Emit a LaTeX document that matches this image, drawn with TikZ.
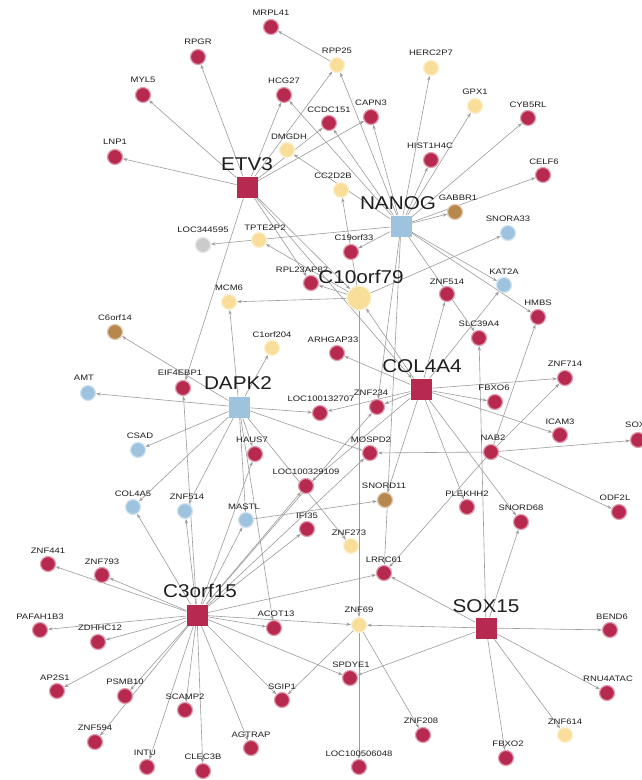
\documentclass[tikz,border=0pt]{standalone}
\usepackage{fontspec}
\setmainfont{Liberation Sans}[FakeStretch=1.12]
\newfontfamily\lblfont{Liberation Sans}[FakeStretch=1.2]
\usetikzlibrary{arrows.meta}
\pgfdeclarelayer{bg}
\pgfsetlayers{bg,main}
\definecolor{nred}{HTML}{B8294F}
\definecolor{nyel}{HTML}{F8DE98}
\definecolor{nblu}{HTML}{9DC3DF}
\definecolor{nbrn}{HTML}{B7874E}
\definecolor{ngry}{HTML}{CBCBCB}
\definecolor{edgec}{HTML}{9C9C9C}
\definecolor{txt}{HTML}{1E1E1E}
\tikzset{
 base/.style={circle,inner sep=0pt,minimum size=15pt,line width=1.2pt},
 rc/.style={base,fill=nred,draw=nred!45!white},
 yc/.style={base,fill=nyel,draw=nyel!45!white},
 bc/.style={base,fill=nblu,draw=nblu!45!white},
 nc/.style={base,fill=nbrn,draw=nbrn!45!white},
 gc/.style={base,fill=ngry,draw=ngry!45!white},
 bigy/.style={yc,minimum size=24pt},
 rsq/.style={rectangle,inner sep=0pt,minimum size=21pt,fill=nred},
 bsq/.style={rectangle,inner sep=0pt,minimum size=21pt,fill=nblu},
 lbl/.style={inner sep=0pt,text=txt,font=\lblfont\fontsize{7.9}{8.5}\selectfont},
 hublbl/.style={inner sep=0pt,text=txt,font=\fontsize{18.5}{20}\selectfont},
 ed/.style={draw=edgec,line width=0.6pt,-{Stealth[length=4.5pt,width=3.2pt]}},
}
\newcommand\gn[7]{\node[#4] (#1) at (#2,#3) {}; \node[lbl] (#1-l) at (#6,#7) {#5};}
\newcommand\hb[7]{\node[#4] (#1) at (#2,#3) {}; \node[hublbl] (#1-l) at (#6,#7) {#5};}
\begin{document}
\begin{tikzpicture}[x=1pt,y=-1pt]
\useasboundingbox (0,0) rectangle (642,780);
% hubs
\hb{ETV3}{247}{187}{rsq}{ETV3}{247}{164}
\hb{NANOG}{401}{226}{bsq}{NANOG}{398}{203}
\hb{C10orf79}{359}{298}{bigy}{C10orf79}{361}{277}
\hb{COL4A4}{421}{389}{rsq}{COL4A4}{422}{366}
\hb{DAPK2}{239}{407}{bsq}{DAPK2}{238}{383}
\hb{C3orf15}{197}{615}{rsq}{C3orf15}{200}{591}
\hb{SOX15}{486}{628}{rsq}{SOX15}{486}{606}
% red
\gn{MRPL41}{271}{27}{rc}{MRPL41}{271}{13}
\gn{RPGR}{198}{57}{rc}{RPGR}{198}{42}
\gn{MYL5}{143}{95}{rc}{MYL5}{143}{80}
\gn{LNP1}{115}{157}{rc}{LNP1}{115}{142}
\gn{HCG27}{284}{95}{rc}{HCG27}{284}{81}
\gn{CCDC151}{329}{123}{rc}{CCDC151}{329}{110}
\gn{CAPN3}{371}{117}{rc}{CAPN3}{371}{103}
\gn{HIST1H4C}{431}{160}{rc}{HIST1H4C}{430}{146}
\gn{CYB5RL}{528}{118}{rc}{CYB5RL}{528}{105}
\gn{CELF6}{543}{175}{rc}{CELF6}{544}{162}
\gn{C19orf33}{351}{252}{rc}{C19orf33}{354}{238}
\gn{RPL23AP82}{311}{283}{rc}{RPL23AP82}{302}{270}
\gn{ZNF514a}{447}{294}{rc}{ZNF514}{447}{282}
\gn{HMBS}{538}{317}{rc}{HMBS}{538}{303}
\gn{SLC39A4}{479}{338}{rc}{SLC39A4}{479}{324}
\gn{ARHGAP33}{337}{353}{rc}{ARHGAP33}{333}{340}
\gn{EIF4EBP1}{183}{388}{rc}{EIF4EBP1}{180}{373}
\gn{ZNF714}{565}{378}{rc}{ZNF714}{565}{364}
\gn{LOC100132707}{320}{413}{rc}{LOC100132707}{321}{399}
\gn{ZNF234}{377}{407}{rc}{ZNF234}{371}{393}
\gn{FBXO6}{495}{402}{rc}{FBXO6}{494}{388}
\gn{ICAM3}{560}{435}{rc}{ICAM3}{560}{422}
\node[rc] (SOX) at (638,440) {};
\node[lbl,anchor=west] (SOX-l) at (625,425) {SOX};
\gn{HAUS7}{255}{454}{rc}{HAUS7}{252}{440}
\gn{MOSPD2}{370}{453}{rc}{MOSPD2}{371}{440}
\gn{NAB2}{491}{452}{rc}{NAB2}{493}{438}
\gn{LOC100329109}{306}{486}{rc}{LOC100329109}{306}{472}
\gn{PLEKHH2}{467}{507}{rc}{PLEKHH2}{467}{494}
\gn{SNORD68}{521}{522}{rc}{SNORD68}{521}{508}
\gn{ODF2L}{619}{512}{rc}{ODF2L}{615}{498}
\gn{IFI35}{307}{529}{rc}{IFI35}{307}{516}
\gn{LRRC61}{384}{573}{rc}{LRRC61}{384}{560}
\gn{ZNF441}{48}{564}{rc}{ZNF441}{48}{551}
\gn{ZNF793}{102}{575}{rc}{ZNF793}{102}{562}
\gn{PAFAH1B3}{40}{630}{rc}{PAFAH1B3}{40}{617}
\gn{ZDHHC12}{98}{642}{rc}{ZDHHC12}{100}{628}
\gn{AP2S1}{57}{691}{rc}{AP2S1}{55}{678}
\gn{PSMB10}{125}{696}{rc}{PSMB10}{125}{682}
\gn{SCAMP2}{185}{710}{rc}{SCAMP2}{185}{697}
\gn{ZNF594}{95}{742}{rc}{ZNF594}{95}{728}
\gn{INTU}{147}{767}{rc}{INTU}{145}{753}
\gn{CLEC3B}{203}{771}{rc}{CLEC3B}{203}{757}
\gn{AGTRAP}{251}{748}{rc}{AGTRAP}{251}{735}
\gn{ACOT13}{274}{628}{rc}{ACOT13}{276}{614}
\gn{SPDYE1}{350}{678}{rc}{SPDYE1}{351}{665}
\gn{SGIP1}{282}{700}{rc}{SGIP1}{282}{687}
\gn{LOC100506048}{359}{767}{rc}{LOC100506048}{359}{754}
\gn{ZNF208}{423}{735}{rc}{ZNF208}{421}{721}
\gn{BEND6}{610}{630}{rc}{BEND6}{612}{617}
\gn{RNU4ATAC}{607}{693}{rc}{RNU4ATAC}{608}{679}
\gn{FBXO2}{506}{758}{rc}{FBXO2}{508}{744}
% yellow
\gn{RPP25}{337}{65}{yc}{RPP25}{337}{51}
\gn{HERC2P7}{431}{68}{yc}{HERC2P7}{431}{53}
\gn{GPX1}{475}{106}{yc}{GPX1}{475}{92}
\gn{DMGDH}{287}{150}{yc}{DMGDH}{289}{137}
\gn{CC2D2B}{341}{190}{yc}{CC2D2B}{333}{176}
\gn{TPTE2P2}{259}{240}{yc}{TPTE2P2}{265}{228}
\gn{MCM6}{229}{302}{yc}{MCM6}{229}{288}
\gn{C1orf204}{272}{348}{yc}{C1orf204}{272}{335}
\gn{ZNF273}{351}{546}{yc}{ZNF273}{349}{533}
\gn{ZNF69}{359}{625}{yc}{ZNF69}{359}{610}
\gn{ZNF614}{565}{735}{yc}{ZNF614}{565}{722}
% blue
\gn{SNORA33}{508}{233}{bc}{SNORA33}{508}{219}
\gn{KAT2A}{504}{285}{bc}{KAT2A}{504}{272}
\gn{AMT}{88}{393}{bc}{AMT}{84}{378}
\gn{CSAD}{138}{450}{bc}{CSAD}{140}{436}
\gn{COL4A5}{133}{507}{bc}{COL4A5}{133}{494}
\gn{ZNF514b}{185}{511}{bc}{ZNF514}{187}{497}
\gn{MASTL}{246}{520}{bc}{MASTL}{244}{507}
% brown, grey
\gn{GABBR1}{455}{212}{nc}{GABBR1}{458}{198}
\gn{C6orf14}{115}{332}{nc}{C6orf14}{115}{318}
\gn{SNORD11}{385}{500}{nc}{SNORD11}{384}{486}
\gn{LOC344595}{203}{245}{gc}{LOC344595}{203}{230}
\begin{pgfonlayer}{bg}
\fill[white] (0,0) rectangle (642,780);
\foreach \s/\t in {
 ETV3/LNP1,ETV3/MYL5,ETV3/RPGR,ETV3/HCG27,ETV3/RPP25,ETV3/CAPN3,ETV3/CCDC151,
 ETV3/C10orf79,ETV3/RPL23AP82,ETV3/EIF4EBP1,ETV3/COL4A4,
 RPP25/MRPL41,
 NANOG/RPP25,NANOG/HERC2P7,NANOG/GPX1,NANOG/CYB5RL,NANOG/CELF6,NANOG/HIST1H4C,
 NANOG/CAPN3,NANOG/CCDC151,NANOG/HCG27,NANOG/DMGDH,NANOG/C19orf33,NANOG/GABBR1,
 NANOG/KAT2A,NANOG/HMBS,NANOG/SLC39A4,NANOG/LOC344595,NANOG/ZNF234,NANOG/LRRC61,
 C10orf79/TPTE2P2,C10orf79/MCM6,C10orf79/RPL23AP82,C10orf79/CC2D2B,C10orf79/SNORA33,
 C10orf79/ZNF69,
 COL4A4/C10orf79,COL4A4/ARHGAP33,COL4A4/ZNF234,COL4A4/LOC100132707,COL4A4/ZNF514a,
 COL4A4/KAT2A,COL4A4/ZNF714,COL4A4/FBXO6,COL4A4/ICAM3,COL4A4/PLEKHH2,COL4A4/SNORD68,
 COL4A4/SNORD11,COL4A4/LOC100329109,
 DAPK2/AMT,DAPK2/CSAD,DAPK2/COL4A5,DAPK2/ZNF514b,DAPK2/MASTL,DAPK2/HAUS7,
 DAPK2/LOC100132707,DAPK2/MOSPD2,DAPK2/MCM6,DAPK2/C6orf14,DAPK2/C1orf204,
 DAPK2/ZNF273,DAPK2/ACOT13,
 C3orf15/ZNF441,C3orf15/ZNF793,C3orf15/PAFAH1B3,C3orf15/ZDHHC12,C3orf15/AP2S1,
 C3orf15/PSMB10,C3orf15/ZNF594,C3orf15/SCAMP2,C3orf15/INTU,C3orf15/CLEC3B,
 C3orf15/AGTRAP,C3orf15/SGIP1,C3orf15/SPDYE1,C3orf15/ACOT13,C3orf15/ZNF69,
 C3orf15/LRRC61,C3orf15/IFI35,C3orf15/LOC100329109,C3orf15/MOSPD2,C3orf15/HAUS7,
 C3orf15/MASTL,C3orf15/EIF4EBP1,C3orf15/ZNF514b,C3orf15/COL4A5,C3orf15/ZNF234,
 SOX15/BEND6,SOX15/RNU4ATAC,SOX15/ZNF614,SOX15/FBXO2,SOX15/ZNF69,SOX15/SPDYE1,
 SOX15/LRRC61,SOX15/SLC39A4,SOX15/SNORD68,
 ZNF69/SGIP1,ZNF69/LOC100506048,ZNF69/ZNF208,
 NAB2/MOSPD2,NAB2/SOX,NAB2/ODF2L,NAB2/HMBS,NAB2/ZNF714,NAB2/LRRC61,
 MASTL/SNORD11}
 \draw[ed] (\s) -- (\t);
\end{pgfonlayer}
\end{tikzpicture}
\end{document}
